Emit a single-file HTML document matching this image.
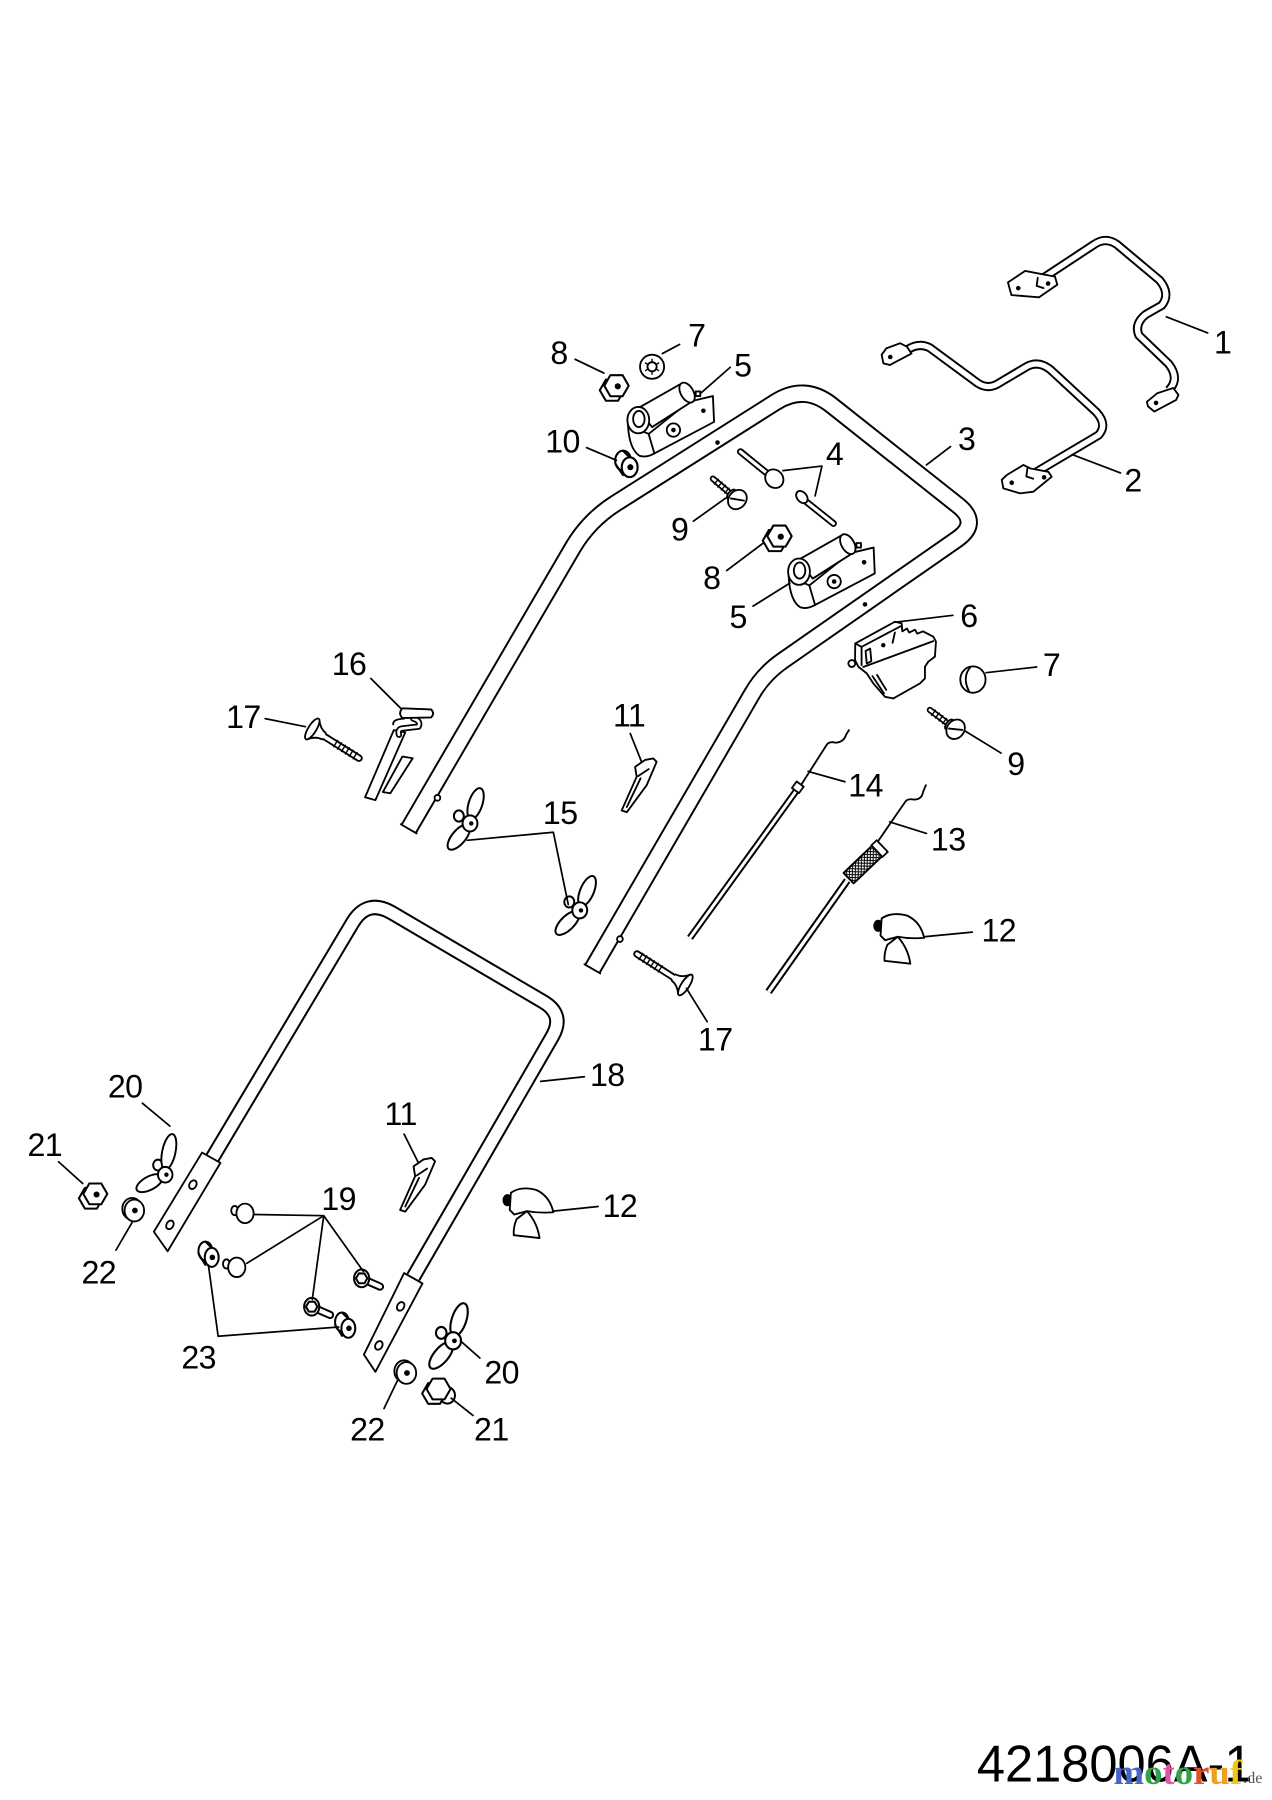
<!DOCTYPE html>
<html><head><meta charset="utf-8"><style>
html,body{margin:0;padding:0;background:#fff;}
svg{display:block;}
</style></head><body>
<svg width="1272" height="1800" viewBox="0 0 1108 1568" xmlns="http://www.w3.org/2000/svg">
<defs>
<pattern id="knurl" patternUnits="userSpaceOnUse" width="3.6" height="3.6">
<path d="M0,0 L3.6,3.6 M3.6,0 L0,3.6" stroke="#000" stroke-width="0.9" fill="none"/>
</pattern>
</defs>
<rect width="1108" height="1568" fill="#fff"/>
<g fill="none" stroke="#000" stroke-width="1.6" stroke-linejoin="round" stroke-linecap="round">

<!-- Part 3 main upper handle -->
<path d="M356,722 L498.6,477.6 Q512.7,453.4 536.4,438.4 L675.4,350.4 Q700.8,334.3 724.3,352.9 L834.3,440.1 Q853.9,455.6 833.4,469.9 L681.5,575.7 Q665.1,587.1 655.1,604.4 L516,844" stroke-width="16" stroke-linecap="butt"/>
<path d="M356,722 L498.6,477.6 Q512.7,453.4 536.4,438.4 L675.4,350.4 Q700.8,334.3 724.3,352.9 L834.3,440.1 Q853.9,455.6 833.4,469.9 L681.5,575.7 Q665.1,587.1 655.1,604.4 L516,844" stroke="#fff" stroke-width="12.6" stroke-linecap="butt"/>
<path d="M349.1,718 L362.9,726 M509.1,840 L522.9,848"/>
<circle cx="381" cy="695" r="2.5" fill="#fff"/>
<circle cx="540" cy="818" r="2.5" fill="#fff"/>
<circle cx="625" cy="385.5" r="2" fill="#000" stroke="none"/>
<circle cx="753.5" cy="526.5" r="2" fill="#000" stroke="none"/>

<!-- Part 18 lower handle -->
<path d="M184.6,1009.3 L307,804 Q319.8,782.5 341.4,795.2 L473.1,872.6 Q492.1,883.8 481.1,902.9 L360,1112.5" stroke-width="13.5" stroke-linecap="butt"/>
<path d="M184.6,1009.3 L307,804 Q319.8,782.5 341.4,795.2 L473.1,872.6 Q492.1,883.8 481.1,902.9 L360,1112.5" stroke="#fff" stroke-width="10" stroke-linecap="butt"/>
<polygon points="176,1004 192,1013 146,1090 134,1073" fill="#fff"/>
<ellipse cx="168" cy="1032" rx="3" ry="4" transform="rotate(30 168 1032)"/>
<ellipse cx="148" cy="1067" rx="3" ry="4" transform="rotate(30 148 1067)"/>
<polygon points="352,1109 368,1118 327,1195 317,1180" fill="#fff"/>
<ellipse cx="349" cy="1138" rx="3" ry="4" transform="rotate(30 349 1138)"/>
<ellipse cx="330" cy="1172" rx="3" ry="4" transform="rotate(30 330 1172)"/>

<!-- Part 1 -->
<path d="M906,244 L953,213 Q963,206 973,213 L1010,244 Q1020,256 1012,266 L998,274 Q988,282 992,292 L1018,317 Q1028,330 1018,340" stroke-width="8" stroke-linecap="butt"/>
<path d="M906,244 L953,213 Q963,206 973,213 L1010,244 Q1020,256 1012,266 L998,274 Q988,282 992,292 L1018,317 Q1028,330 1018,340" stroke="#fff" stroke-width="4.6" stroke-linecap="butt"/>
<polygon points="878,246 893,236 919,241 921,248 905,259 881,257" fill="#fff"/>
<path d="M904,242 L903,249 L909,251"/>
<circle cx="887" cy="251" r="2" fill="#000" stroke="none"/>
<circle cx="913" cy="247" r="2" fill="#000" stroke="none"/>
<polygon points="999,350 1008,342.6 1022,338 1026.6,344 1024.5,348.4 1005.5,358.5 1000,354" fill="#fff"/>
<circle cx="1007" cy="351" r="2" fill="#000" stroke="none"/>

<!-- Part 2 -->
<path d="M790,305 Q800,298 810,303 L852,334 Q860,339 868,335 L895,319 Q905,314 915,322 L955,359 Q965,370 957,379 L903,411" stroke-width="8" stroke-linecap="butt"/>
<path d="M790,305 Q800,298 810,303 L852,334 Q860,339 868,335 L895,319 Q905,314 915,322 L955,359 Q965,370 957,379 L903,411" stroke="#fff" stroke-width="4.6" stroke-linecap="butt"/>
<polygon points="768,309 772,303.5 784,299 790,302 794,308 775,318 769.5,316.5" fill="#fff"/>
<circle cx="775.5" cy="311" r="2" fill="#000" stroke="none"/>
<polygon points="872.6,418 877,413.8 891.5,405 897.3,408 913.2,411 916.1,415.3 900.2,428.3 888.6,429.8 874,425.4" fill="#fff"/>
<path d="M895,408 L894,415 L900,417"/>
<circle cx="881.3" cy="420.5" r="2" fill="#000" stroke="none"/>
<circle cx="909.5" cy="415.8" r="2" fill="#000" stroke="none"/>

<!-- Part 5 hinges -->
<g>
<polygon points="600,350 621,345 622,367.5 570,395 562,394 565,378" fill="#fff"/>
<polygon points="555,356 592,335 604,349 568,372" fill="#fff"/>
<ellipse cx="598.5" cy="342" rx="5.5" ry="9.5" transform="rotate(-30 598.5 342)" fill="#fff"/>
<rect x="606" y="341" width="4" height="4" fill="#fff"/>
<path d="M547,370 Q548,391 557,397 Q563,399 570,395 L565,378 Z" fill="#fff"/>
<ellipse cx="556" cy="366" rx="9.5" ry="11.5" fill="#fff"/>
<ellipse cx="556.5" cy="365" rx="5" ry="7"/>
<circle cx="586.6" cy="374.6" r="5.8" fill="#fff"/>
<circle cx="586.6" cy="374.6" r="2" fill="#000" stroke="none"/>
<circle cx="612.7" cy="357.8" r="2" fill="#000" stroke="none"/>
</g>
<g transform="translate(140,132)">
<polygon points="600,350 621,345 622,367.5 570,395 562,394 565,378" fill="#fff"/>
<polygon points="555,356 592,335 604,349 568,372" fill="#fff"/>
<ellipse cx="598.5" cy="342" rx="5.5" ry="9.5" transform="rotate(-30 598.5 342)" fill="#fff"/>
<rect x="606" y="341" width="4" height="4" fill="#fff"/>
<path d="M547,370 Q548,391 557,397 Q563,399 570,395 L565,378 Z" fill="#fff"/>
<ellipse cx="556" cy="366" rx="9.5" ry="11.5" fill="#fff"/>
<ellipse cx="556.5" cy="365" rx="5" ry="7"/>
<circle cx="586.6" cy="374.6" r="5.8" fill="#fff"/>
<circle cx="586.6" cy="374.6" r="2" fill="#000" stroke="none"/>
<circle cx="612.7" cy="357.8" r="2" fill="#000" stroke="none"/>
</g>

<!-- Part 8 nuts -->
<g transform="translate(537,336) scale(1.12)">
<polygon points="6,3.5 1.25,11.7 -8.25,11.7 -13,3.5 -8.25,-4.7 1.25,-4.7" fill="#fff"/>
<polygon points="9.5,0 4.75,8.2 -4.75,8.2 -9.5,0 -4.75,-8.2 4.75,-8.2" fill="#fff"/>
<circle cx="1" cy="0.5" r="2.4" fill="#000" stroke="none"/>
</g>
<g transform="translate(679,467) scale(1.12)">
<polygon points="6,3.5 1.25,11.7 -8.25,11.7 -13,3.5 -8.25,-4.7 1.25,-4.7" fill="#fff"/>
<polygon points="9.5,0 4.75,8.2 -4.75,8.2 -9.5,0 -4.75,-8.2 4.75,-8.2" fill="#fff"/>
<circle cx="1" cy="0.5" r="2.4" fill="#000" stroke="none"/>
</g>

<!-- Part 7 star washer -->
<circle cx="568" cy="319.5" r="10.5" fill="#fff"/>
<circle cx="568" cy="319.5" r="4"/>
<path d="M568,315.5 L568,313 M571.5,317.5 L573.7,316.2 M571.5,321.5 L573.7,322.8 M568,323.5 L568,326 M564.5,321.5 L562.3,322.8 M564.5,317.5 L562.3,316.2" stroke-width="1.2"/>

<!-- Part 10 spacer -->
<g transform="translate(548.5,407) scale(1.15)">
<ellipse cx="-5" cy="-5" rx="6" ry="7.5" fill="#fff"/>
<path d="M-5,-12.5 L0,-7.5 L0,7.5 L-5,2.5 Z" fill="#fff" stroke="none"/>
<path d="M-5,-12.5 L0,-7.5 M-10.5,-2 L-5,6"/>
<ellipse cx="0" cy="0" rx="6" ry="7.5" fill="#fff"/>
<circle cx="0.5" cy="0" r="2.3" fill="#000" stroke="none"/>
</g>

<!-- Part 4 pins -->
<path d="M645,393.5 L669,413" stroke-width="6"/>
<path d="M645,393.5 L669,413" stroke="#fff" stroke-width="2.8"/>
<ellipse cx="674.5" cy="417" rx="7.5" ry="8.5" transform="rotate(-40 674.5 417)" fill="#fff"/>
<path d="M701,436 L726,456" stroke-width="6"/>
<path d="M701,436 L726,456" stroke="#fff" stroke-width="2.8"/>
<ellipse cx="698.5" cy="433" rx="4.2" ry="6" transform="rotate(-40 698.5 433)" fill="#fff"/>

<!-- Part 9 screws -->
<g transform="translate(621,417) rotate(40.4)">
<path d="M0,0 L20,0" stroke-width="5.5"/>
<path d="M0,0 L20,0" stroke="#fff" stroke-width="2.4"/>
<path d="M4,-2.8 L4,2.8 M8,-2.8 L8,2.8 M12,-2.8 L12,2.8 M16,-2.8 L16,2.8" stroke-width="1.2"/>
<ellipse cx="21" cy="0" rx="2.5" ry="5" fill="#fff"/>
<ellipse cx="28" cy="0" rx="7.5" ry="9" fill="#fff"/>
<path d="M23,3 L33,-3"/>
</g>
<g transform="translate(810,618.5) rotate(36.8)">
<path d="M0,0 L20,0" stroke-width="5.5"/>
<path d="M0,0 L20,0" stroke="#fff" stroke-width="2.4"/>
<path d="M4,-2.8 L4,2.8 M8,-2.8 L8,2.8 M12,-2.8 L12,2.8 M16,-2.8 L16,2.8" stroke-width="1.2"/>
<ellipse cx="21" cy="0" rx="2.5" ry="5" fill="#fff"/>
<ellipse cx="28" cy="0" rx="7.5" ry="9" fill="#fff"/>
<path d="M23,3 L33,-3"/>
</g>

<!-- Part 6 control box -->
<circle cx="742" cy="578" r="3" fill="#fff"/>
<polygon points="745,560.5 779.6,541.6 785.4,543 786,550 790,547.5 792,551 797,548.5 799,552 804,550 813,554.6 815.3,559 814.4,572 808.6,576.4 805.7,580.8 805.7,591 801.4,595.3 778.2,608.4 770.9,607 760.7,595.3 755,586.6 747.7,580.8 744.8,575" fill="#fff"/>
<path d="M745,560.5 L750.5,563.5 L750.5,579.5 M750.5,563.5 L785.5,545 M752,581 L813,558.5 M760,589 L770,604 M764,588 L772,601"/>
<polygon points="754,567 758,565 759,576 755,578"/>
<path d="M779.5,551 L777.5,560"/>
<circle cx="769.4" cy="562" r="1.9" fill="#000" stroke="none"/>

<!-- Part 7 cap -->
<ellipse cx="847.5" cy="592" rx="11" ry="11.5" fill="#fff"/>
<path d="M845,581.5 Q838,590 844,602"/>

<!-- Part 11 clips -->
<polygon points="541.5,706 554.6,676.6 553.2,668 561.9,662 569,660.7 572,663.6 563.3,684 546,707.5" fill="#fff"/>
<path d="M546,703 L558,678 M556,676 L565,670"/>
<g transform="translate(-193,348)">
<polygon points="541.5,706 554.6,676.6 553.2,668 561.9,662 569,660.7 572,663.6 563.3,684 546,707.5" fill="#fff"/>
<path d="M546,703 L558,678 M556,676 L565,670"/>
</g>

<!-- Part 12 -->
<ellipse cx="765" cy="806.5" rx="3.5" ry="4.5" fill="#000"/>
<path fill="#fff" d="M767,815 L768,800 Q777,794 790,797.5 Q802,803 805,817 Q793,818 782,816 L771,819 Z"/>
<path fill="#fff" d="M782,816 L773,823 Q770,830 770.5,837 L793,839.5 Q791,826 782,816 Z"/>
<g transform="translate(-323,239)">
<ellipse cx="765" cy="806.5" rx="3.5" ry="4.5" fill="#000"/>
<path fill="#fff" d="M767,815 L768,800 Q777,794 790,797.5 Q802,803 805,817 Q793,818 782,816 L771,819 Z"/>
<path fill="#fff" d="M782,816 L773,823 Q770,830 770.5,837 L793,839.5 Q791,826 782,816 Z"/>
</g>

<!-- Part 14 rod -->
<path d="M697,685 L720,649 Q722,645.5 728,647 Q735,646.5 737,640 L739.5,636"/>
<path d="M695,687 L601,817" stroke-width="6" stroke-linecap="butt"/>
<path d="M695,687 L601,817" stroke="#fff" stroke-width="2.6" stroke-linecap="butt"/>
<g transform="translate(697,683) rotate(125.9)"><rect x="0" y="-3.8" width="7" height="7.6" fill="#fff"/></g>

<!-- Part 13 cable -->
<path d="M764,734 L788.5,698.5 Q790.5,695.5 796,696.5 Q803,696.5 804,690 L806.5,684"/>
<path d="M738,767 L669.5,864" stroke-width="6.5" stroke-linecap="butt"/>
<path d="M738,767 L669.5,864" stroke="#fff" stroke-width="3" stroke-linecap="butt"/>
<g transform="translate(768.5,737) rotate(136.3)">
<rect x="0" y="-7" width="6.5" height="14" fill="#fff"/>
<rect x="6.5" y="-6.3" width="34" height="12.6" fill="#fff"/>
<rect x="6.5" y="-6.3" width="34" height="12.6" fill="url(#knurl)"/>
</g>

<!-- Part 15 wing nuts -->
<g transform="translate(409.4,717.3) scale(1.08)">
<ellipse cx="-9" cy="-6" rx="4" ry="4.5" fill="#fff"/>
<ellipse cx="4.5" cy="-16" rx="5.5" ry="13" transform="rotate(18 4.5 -16)" fill="#fff"/>
<ellipse cx="-9" cy="11" rx="5.5" ry="12.5" transform="rotate(40 -9 11)" fill="#fff"/>
<ellipse cx="0" cy="0" rx="6" ry="6.5" fill="#fff"/>
<circle cx="1" cy="0" r="1.8" fill="#000" stroke="none"/>
</g>
<g transform="translate(505,793) rotate(5) scale(1.08)">
<ellipse cx="-9" cy="-6" rx="4" ry="4.5" fill="#fff"/>
<ellipse cx="4.5" cy="-16" rx="5.5" ry="13" transform="rotate(18 4.5 -16)" fill="#fff"/>
<ellipse cx="-9" cy="11" rx="5.5" ry="12.5" transform="rotate(40 -9 11)" fill="#fff"/>
<ellipse cx="0" cy="0" rx="6" ry="6.5" fill="#fff"/>
<circle cx="1" cy="0" r="1.8" fill="#000" stroke="none"/>
</g>

<!-- Part 20 wing nuts -->
<g transform="translate(394.7,1168) scale(1.15)">
<ellipse cx="-9" cy="-6" rx="4" ry="4.5" fill="#fff"/>
<ellipse cx="4.5" cy="-16" rx="5.5" ry="13" transform="rotate(18 4.5 -16)" fill="#fff"/>
<ellipse cx="-9" cy="11" rx="5.5" ry="12.5" transform="rotate(40 -9 11)" fill="#fff"/>
<ellipse cx="0" cy="0" rx="6" ry="6.5" fill="#fff"/>
<circle cx="1" cy="0" r="1.8" fill="#000" stroke="none"/>
</g>
<g transform="translate(143.9,1023.3) scale(1.05)">
<ellipse cx="-6" cy="-8" rx="4" ry="4.5" fill="#fff"/>
<ellipse cx="3" cy="-19" rx="5.5" ry="15" transform="rotate(12 3 -19)" fill="#fff"/>
<ellipse cx="-13" cy="7" rx="5.5" ry="12" transform="rotate(62 -13 7)" fill="#fff"/>
<ellipse cx="0" cy="0" rx="6" ry="6.5" fill="#fff"/>
<circle cx="1" cy="0" r="1.8" fill="#000" stroke="none"/>
</g>

<!-- Part 16 -->
<polygon points="343,636 353,638 327,697 318,694.5" fill="#fff"/>
<polygon points="350.5,659 359.5,660.5 340,691 333.5,690" fill="#fff"/>
<path d="M360,626 Q367,628 364.5,633 L351,634.5 Q346,635 347.5,640" stroke-width="5.5"/>
<path d="M360,626 Q367,628 364.5,633 L351,634.5 Q346,635 347.5,640" stroke="#fff" stroke-width="2.4"/>
<path d="M352,626 Q342,626.5 342.5,631"/>
<path fill="#fff" d="M350.5,617 L375.5,618 Q379,621.5 375.5,625 L350.5,625.5 Q346.5,621.5 350.5,617 Z"/>

<!-- Part 17 bolts -->
<g transform="translate(272,635) rotate(32)">
<path d="M11,0 L48,0" stroke-width="6.5"/>
<path d="M11,0 L48,0" stroke="#fff" stroke-width="3.2"/>
<path d="M24,-3.2 L24,3.2 M28,-3.2 L28,3.2 M32,-3.2 L32,3.2 M36,-3.2 L36,3.2 M40,-3.2 L40,3.2 M44,-3.2 L44,3.2" stroke-width="1.2"/>
<path d="M1,-10 Q6,-3.6 12,-3.2 L12,3.2 Q6,3.6 1,10 Z" fill="#fff" stroke="none"/>
<path d="M1,-10 Q6,-3.6 12,-3.2 M1,10 Q6,3.6 12,3.2"/>
<ellipse cx="0" cy="0" rx="3.5" ry="10.5" fill="#fff"/>
</g>
<g transform="translate(597,858) rotate(212.6)">
<path d="M11,0 L50,0" stroke-width="6.5"/>
<path d="M11,0 L50,0" stroke="#fff" stroke-width="3.2"/>
<path d="M26,-3.2 L26,3.2 M30,-3.2 L30,3.2 M34,-3.2 L34,3.2 M38,-3.2 L38,3.2 M42,-3.2 L42,3.2 M46,-3.2 L46,3.2" stroke-width="1.2"/>
<path d="M1,-10 Q6,-3.6 12,-3.2 L12,3.2 Q6,3.6 1,10 Z" fill="#fff" stroke="none"/>
<path d="M1,-10 Q6,-3.6 12,-3.2 M1,10 Q6,3.6 12,3.2"/>
<ellipse cx="0" cy="0" rx="3.5" ry="10.5" fill="#fff"/>
</g>

<!-- Part 19 dome pins -->
<g transform="translate(213.4,1057)">
<ellipse cx="-9" cy="-2.5" rx="3" ry="4" fill="#fff"/>
<ellipse cx="0" cy="0" rx="7.5" ry="8.5" fill="#fff"/>
</g>
<g transform="translate(206.2,1104)">
<ellipse cx="-9" cy="-3" rx="3" ry="4" fill="#fff"/>
<ellipse cx="0" cy="0" rx="7.5" ry="8.5" fill="#fff"/>
</g>
<!-- Part 19 bolts -->
<g transform="translate(315,1113.6) scale(1.1)">
<path d="M2,1 L14.5,6.5" stroke-width="6.5"/>
<path d="M2,1 L14.5,6.5" stroke="#fff" stroke-width="3.4"/>
<ellipse cx="0" cy="0" rx="6" ry="7" fill="#fff"/>
<polygon points="4.5,0 2.25,3.9 -2.25,3.9 -4.5,0 -2.25,-3.9 2.25,-3.9" fill="#fff"/>
</g>
<g transform="translate(271.5,1138.3) scale(1.1)">
<path d="M2,1 L14.5,6.5" stroke-width="6.5"/>
<path d="M2,1 L14.5,6.5" stroke="#fff" stroke-width="3.4"/>
<ellipse cx="0" cy="0" rx="6" ry="7" fill="#fff"/>
<polygon points="4.5,0 2.25,3.9 -2.25,3.9 -4.5,0 -2.25,-3.9 2.25,-3.9" fill="#fff"/>
</g>

<!-- Part 23 spacers -->
<g transform="translate(184.4,1095.3) scale(1.1)">
<ellipse cx="-5" cy="-5" rx="5.5" ry="7.5" fill="#fff"/>
<path d="M-5,-12.5 L0,-7.5 L0,7.5 L-5,2.5 Z" fill="#fff" stroke="none"/>
<path d="M-5,-12.5 L0,-7.5 M-10.5,-3 L-5,6"/>
<ellipse cx="0" cy="0" rx="5.5" ry="7.5" fill="#fff"/>
<circle cx="0.5" cy="0" r="2.2" fill="#000" stroke="none"/>
</g>
<g transform="translate(303.4,1157.1) scale(1.1)">
<ellipse cx="-5" cy="-5" rx="5.5" ry="7.5" fill="#fff"/>
<path d="M-5,-12.5 L0,-7.5 L0,7.5 L-5,2.5 Z" fill="#fff" stroke="none"/>
<path d="M-5,-12.5 L0,-7.5 M-10.5,-3 L-5,6"/>
<ellipse cx="0" cy="0" rx="5.5" ry="7.5" fill="#fff"/>
<circle cx="0.5" cy="0" r="2.2" fill="#000" stroke="none"/>
</g>

<!-- Part 21 nuts -->
<g transform="translate(83,1040) scale(1.1)">
<polygon points="6,3.5 1.25,11.7 -8.25,11.7 -13,3.5 -8.25,-4.7 1.25,-4.7" fill="#fff"/>
<polygon points="9.5,0 4.75,8.2 -4.75,8.2 -9.5,0 -4.75,-8.2 4.75,-8.2" fill="#fff"/>
<circle cx="1" cy="0.5" r="2.4" fill="#000" stroke="none"/>
</g>
<g transform="translate(382,1210) scale(1.1)">
<ellipse cx="7" cy="5" rx="6" ry="6.5" fill="#fff"/>
<polygon points="6,3.5 1.25,11.7 -8.25,11.7 -13,3.5 -8.25,-4.7 1.25,-4.7" fill="#fff"/>
<polygon points="9.5,0 4.75,8.2 -4.75,8.2 -9.5,0 -4.75,-8.2 4.75,-8.2" fill="#fff"/>
</g>

<!-- Part 22 washers -->
<g transform="translate(117,1054.5)">
<ellipse cx="-2" cy="-1.5" rx="8.5" ry="9.5" fill="#fff"/>
<ellipse cx="0" cy="0" rx="8.5" ry="9.5" fill="#fff"/>
<circle cx="0.5" cy="0" r="2.5" fill="#000" stroke="none"/>
</g>
<g transform="translate(354,1196)">
<ellipse cx="-2" cy="-1.5" rx="8.5" ry="9.5" fill="#fff"/>
<ellipse cx="0" cy="0" rx="8.5" ry="9.5" fill="#fff"/>
<circle cx="0.5" cy="0" r="2.5" fill="#000" stroke="none"/>
</g>

<!-- Leader lines -->
<g stroke-width="1.5">
<path d="M1052,290 L1016,276"/>
<path d="M976,412 L934,396"/>
<path d="M828,389 L807,405"/>
<path d="M716,406 L682,410 M716,406 L710,432"/>
<path d="M636,320 L611,342"/>
<path d="M656,528 L688,508"/>
<path d="M830,536 L780,542"/>
<path d="M592,300 L577,308"/>
<path d="M903,581 L859,586"/>
<path d="M501,313 L526,325"/>
<path d="M633,497 L665,473"/>
<path d="M604,454 L632,434"/>
<path d="M872,656 L841,637"/>
<path d="M511,390 L537,401"/>
<path d="M549,639 L559,664"/>
<path d="M352,988 L364,1012"/>
<path d="M805,816 L847,812"/>
<path d="M482,1055 L521,1051"/>
<path d="M807,726 L775,716"/>
<path d="M736,681 L704,672"/>
<path d="M482,725 L407,732 M482,725 L495,788"/>
<path d="M323,591 L349,617"/>
<path d="M231,626 L266,633"/>
<path d="M616,890 L598,861"/>
<path d="M471,942 L509,938"/>
<path d="M282,1059 L222,1058 M282,1059 L215,1100.5 M282,1059 L272,1132 M282,1059 L316.5,1107.5"/>
<path d="M124,961 L148,981"/>
<path d="M418,1183 L401,1168"/>
<path d="M51,1012 L72,1031"/>
<path d="M412,1233 L393,1218"/>
<path d="M101,1089 L115,1065"/>
<path d="M334.5,1227 L346,1203"/>
<path d="M181.5,1102 L190,1164 L295,1156"/>
</g>
</g>

<!-- Labels -->
<g font-family="Liberation Sans, Arial, sans-serif" font-size="28" fill="#000" text-anchor="middle" letter-spacing="-0.5">
<text x="1065" y="308">1</text>
<text x="987" y="428">2</text>
<text x="842" y="392">3</text>
<text x="727" y="405">4</text>
<text x="647" y="328">5</text>
<text x="643" y="547">5</text>
<text x="844" y="546">6</text>
<text x="607" y="302">7</text>
<text x="916" y="589">7</text>
<text x="487" y="317">8</text>
<text x="620" y="513">8</text>
<text x="592" y="471">9</text>
<text x="885" y="675">9</text>
<text x="490" y="394">10</text>
<text x="548" y="633">11</text>
<text x="349" y="980">11</text>
<text x="870" y="820">12</text>
<text x="540" y="1060">12</text>
<text x="826" y="741">13</text>
<text x="754" y="694">14</text>
<text x="488" y="718">15</text>
<text x="304" y="588">16</text>
<text x="212" y="634">17</text>
<text x="623" y="915">17</text>
<text x="529" y="946">18</text>
<text x="295" y="1054">19</text>
<text x="109" y="956">20</text>
<text x="437" y="1205">20</text>
<text x="39" y="1007">21</text>
<text x="428" y="1255">21</text>
<text x="86" y="1118">22</text>
<text x="320" y="1255">22</text>
<text x="173" y="1192">23</text>
</g>

<text x="851" y="1552" font-family="Liberation Sans, Arial, sans-serif" font-size="45" fill="#000" textLength="240" lengthAdjust="spacingAndGlyphs">4218006A-1</text>
<text x="970" y="1554" font-family="Liberation Serif, Times New Roman, serif" font-size="30" font-weight="bold" textLength="112" lengthAdjust="spacingAndGlyphs"><tspan fill="#4466cc">m</tspan><tspan fill="#33a04a">o</tspan><tspan fill="#e0569e">t</tspan><tspan fill="#33a04a">o</tspan><tspan fill="#e0522a">r</tspan><tspan fill="#f0a020">u</tspan><tspan fill="#f2c418">f</tspan></text>
<text x="1083" y="1553" font-family="Liberation Serif, Times New Roman, serif" font-size="14" fill="#555">.de</text>
</svg>
</body></html>
